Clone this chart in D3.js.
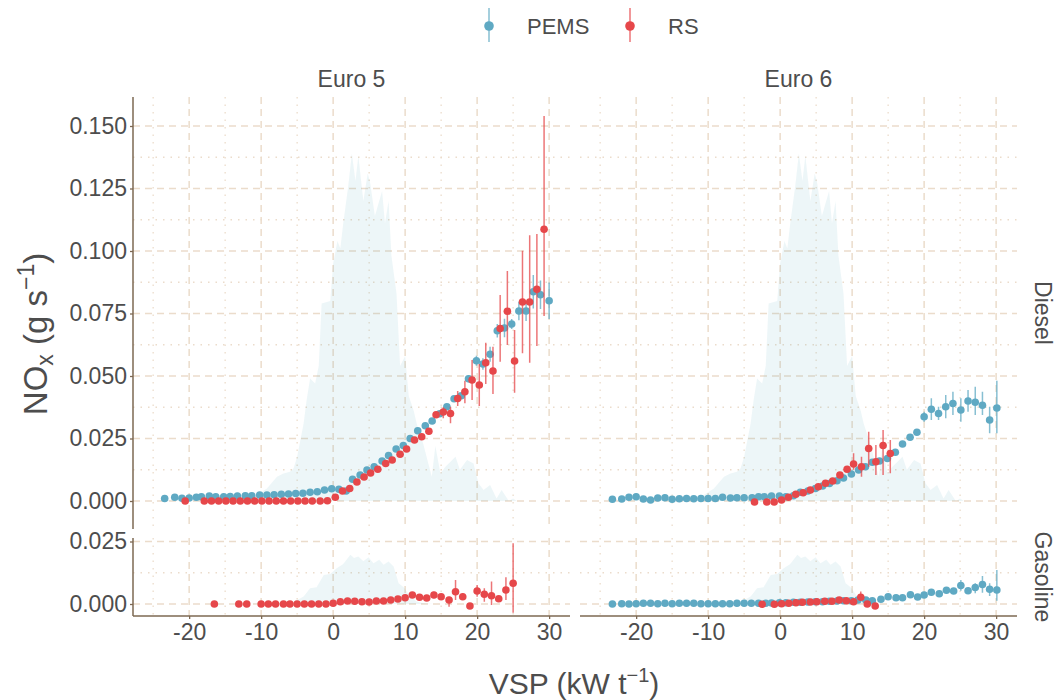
<!DOCTYPE html>
<html>
<head>
<meta charset="utf-8">
<script src="https://cdn.jsdelivr.net/npm/d3@7"></script>
<style>
  body { margin: 0; background: #fff; }
  text { font-family: "Liberation Sans", Arial, sans-serif; fill: #4d4d4d; }
</style>
</head>
<body>
<svg id="chart" width="1057" height="700"></svg>
<script>
// Step 1: Data
// ==============================================
const euroLabels = [ "Euro 5", "Euro 6" ];
const fuelLabels = [ "Diesel", "Gasoline" ];
const seriesNames = [ "PEMS", "RS" ];
const xTicks = [ -20, -10, 0, 10, 20, 30 ];
const xMinor = [ -25, -15, -5, 5, 15, 25 ];
const yTicksDiesel = [ 0, 0.025, 0.05, 0.075, 0.1, 0.125, 0.15 ];
const yMinorDiesel = [ 0.0125, 0.0375, 0.0625, 0.0875, 0.1125, 0.1375 ];
const yTicksGasoline = [ 0, 0.025 ];
const yMinorGasoline = [ 0.0125 ];

// rows: [vsp, nox, low, high]  (low/high only where an error bar shows)
const e5DieselPEMS = [
  [-23.4,0.0010],[-22.0,0.0015],[-21.0,0.0011],[-20.0,0.0012],[-19.0,0.0015],[-18.3,0.0017],
  [-17.2,0.0020],[-16.3,0.0017],[-15.2,0.0017],[-14.3,0.0018],[-13.3,0.0020],[-12.2,0.0021],
  [-11.3,0.0021],[-10.2,0.0024],[-9.2,0.0024],[-8.2,0.0025],[-7.2,0.0027],[-6.2,0.0028],
  [-5.2,0.0030],[-4.2,0.0031],[-3.2,0.0035],[-2.2,0.0037],[-1.2,0.0044],[-0.2,0.0049],
  [0.8,0.0047],[1.8,0.0040],[2.7,0.0087],[3.75,0.0104],[4.7,0.0124],[5.7,0.0137],
  [6.8,0.0160],[7.7,0.0182],[8.75,0.0208],[9.75,0.0222],[10.7,0.0250],[11.75,0.0281],
  [12.8,0.0301],[13.75,0.0320],[14.8,0.0349],[15.8,0.0377],[16.8,0.0409],[17.8,0.0421],
  [18.8,0.0489,0.0474,0.0504],[19.9,0.0561,0.0541,0.0581],[20.8,0.0548,0.0525,0.0571],
  [21.8,0.0587,0.0557,0.0617],[22.8,0.0681,0.0654,0.0708],[23.8,0.0692,0.0655,0.0729],
  [24.8,0.0708,0.0688,0.0728],[25.8,0.0760,0.0723,0.0797],[26.8,0.0760,0.0720,0.0800],
  [27.8,0.0837,0.0770,0.0904],[28.8,0.0825,0.0768,0.0882],[30.0,0.0801,0.0728,0.0874]
];
const e5DieselRS = [
  [-20.55,0.0000],[-17.9,0.0000],[-16.9,0.0000],[-15.9,0.0000],[-14.9,0.0000],[-13.9,0.0000],
  [-12.9,0.0000],[-11.9,0.0000],[-10.9,0.0000],[-9.9,0.0000],[-8.9,0.0000],[-7.9,0.0000],
  [-6.9,0.0000],[-5.9,0.0000],[-4.9,0.0000],[-3.9,0.0000],[-2.9,0.0000],[-1.8,0.0000],
  [-0.8,0.0001],[0.3,0.0015],[1.3,0.0040],[2.3,0.0050],[3.3,0.0076],[4.3,0.0096],
  [5.2,0.0112],[6.2,0.0127],[7.3,0.0150],[8.2,0.0164],[9.3,0.0187],[10.2,0.0208],
  [11.3,0.0244],[12.3,0.0257],[13.3,0.0279],[14.3,0.0345,0.0335,0.0355],
  [15.3,0.0356,0.0331,0.0375],[16.3,0.0350,0.0311,0.0377],[17.3,0.0410,0.0380,0.0440],
  [18.3,0.0437,0.0391,0.0481],[19.3,0.0484,0.0404,0.0564],[20.3,0.0464,0.0380,0.0548],
  [21.2,0.0553,0.0468,0.0633],[22.2,0.0520,0.0428,0.0617],[23.2,0.0690,0.0557,0.0824],
  [24.2,0.0759,0.0624,0.0920],[25.2,0.0560,0.0433,0.0684],[26.3,0.0796,0.0591,0.1001],
  [27.3,0.0796,0.0553,0.1063],[28.3,0.0847,0.0620,0.1068],[29.3,0.1087,0.0740,0.1540]
];
const e6DieselPEMS = [
  [-23.3,0.0007],[-22.0,0.0008],[-21.0,0.0015],[-20.0,0.0017],[-19.0,0.0008],[-18.0,0.0004],
  [-17.0,0.0012],[-16.0,0.0013],[-15.0,0.0007],[-14.0,0.0009],[-13.0,0.0010],[-12.0,0.0009],
  [-11.0,0.0010],[-10.0,0.0010],[-9.0,0.0010],[-8.0,0.0015],[-6.9,0.0012],[-6.0,0.0013],
  [-5.0,0.0013],[-3.9,0.0013],[-3.0,0.0017],[-2.2,0.0017],[-1.2,0.0020],[-0.1,0.0020],
  [0.8,0.0017],[1.85,0.0021],[2.8,0.0035],[3.85,0.0040],[4.9,0.0050],[5.9,0.0060],
  [6.85,0.0070],[7.9,0.0081],[8.8,0.0092],[9.9,0.0108],[10.9,0.0124],[11.85,0.0137],
  [12.8,0.0155],[13.8,0.0160],[14.9,0.0170],[16.0,0.0195],[17.0,0.0228],[18.05,0.0255],
  [19.0,0.0275],[20.0,0.0337,0.0317,0.0357],[21.0,0.0367,0.0324,0.0411],
  [22.0,0.0350,0.0324,0.0377],[23.0,0.0377,0.0331,0.0424],[24.0,0.0390,0.0344,0.0437],
  [25.1,0.0364,0.0317,0.0411],[26.1,0.0400,0.0357,0.0444],[27.1,0.0395,0.0344,0.0457],
  [28.1,0.0383,0.0344,0.0437],[29.1,0.0324,0.0271,0.0377],[30.1,0.0372,0.0271,0.0481]
];
const e6DieselRS = [
  [-3.56,-0.0004],[-1.85,-0.0004],[-0.83,-0.0004],[0.19,0.0004],[1.16,0.0015],[2.18,0.0027],
  [3.2,0.0033],[4.2,0.0044],[5.3,0.0057],[6.3,0.0071],[7.3,0.0080],[8.3,0.0104],
  [9.3,0.0127,0.0119,0.0135],[10.2,0.0148,0.0125,0.0191],[11.3,0.0137,0.0097,0.0177],
  [12.3,0.0210,0.0137,0.0277],[13.3,0.0157,0.0104,0.0224],[14.3,0.0222,0.0104,0.0284],
  [15.3,0.0190,0.0111,0.0244]
];
const e5GasolinePEMS = [];
const e5GasolineRS = [
  [-16.5,0.0000],[-13.1,0.0000],[-12.0,0.0000],[-10.0,0.0000],[-9.0,0.0000],[-8.0,0.0000],
  [-6.9,0.0000],[-6.0,0.0000],[-5.0,0.0000],[-4.0,0.0000],[-3.0,0.0000],[-2.0,0.0000],
  [-1.0,0.0000],[0.0,0.0003],[1.0,0.0009],[2.0,0.0012],[3.0,0.0011],[4.0,0.0009],
  [5.0,0.0008],[6.0,0.0012],[7.0,0.0012],[8.0,0.0016],[9.0,0.0020],[10.0,0.0025],
  [11.0,0.0036],[12.0,0.0027],[13.0,0.0024],[14.0,0.0036,0.0023,0.0049],[15.0,0.0029],
  [16.1,0.0016,-0.0011,0.0029],[17.0,0.0049,0.0016,0.0096],[18.0,0.0029,0.0016,0.0043],
  [19.0,-0.0008],[20.0,0.0052,0.0029,0.0076],[21.0,0.0039,0.0009,0.0063],
  [22.0,0.0033,-0.0004,0.0090],[23.0,0.0021],[24.0,0.0056,0.0016,0.0107],
  [25.0,0.0083,-0.0035,0.0243]
];
const e6GasolinePEMS = [
  [-23.3,0.0000],[-22.0,0.0001],[-21.0,0.0000],[-20.0,0.0001],[-19.0,0.0003],[-18.0,0.0003],
  [-17.0,0.0001],[-16.0,0.0003],[-15.0,0.0001],[-14.0,0.0003],[-13.0,0.0003],[-12.0,0.0003],
  [-11.0,0.0001],[-10.0,0.0001],[-9.0,0.0001],[-8.0,0.0001],[-7.0,0.0001],[-6.0,0.0003],
  [-5.0,0.0003],[-4.0,0.0003],[-3.0,0.0003],[-2.0,0.0003],[-1.2,0.0004],[-0.1,0.0005],
  [0.8,0.0005],[1.85,0.0007],[2.8,0.0007],[3.85,0.0008],[4.9,0.0009],[5.9,0.0009],
  [6.85,0.0011],[7.9,0.0012],[8.8,0.0013],[9.9,0.0013],[10.8,0.0016],[11.9,0.0016],
  [12.8,0.0013],[14.0,0.0019],[15.0,0.0029],[16.1,0.0025],[17.0,0.0025],[18.1,0.0037],
  [19.1,0.0028],[20.0,0.0036],[21.0,0.0047],[22.1,0.0041],[23.1,0.0055,0.0047,0.0063],
  [24.1,0.0052,0.0045,0.0059],[25.1,0.0074,0.0053,0.0096],[26.1,0.0053,0.0045,0.0061],
  [27.1,0.0066,0.0043,0.0083],[28.1,0.0078,0.0045,0.0112],[29.1,0.0059,0.0032,0.0083],
  [30.1,0.0056,0.0013,0.0136]
];
const e6GasolineRS = [
  [-2.5,-0.0001],[-0.8,-0.0001],[0.2,0.0001],[1.2,0.0003],[2.2,0.0005],[3.1,0.0007],
  [4.2,0.0008],[5.1,0.0009],[6.2,0.0011],[7.2,0.0011],[8.2,0.0016],[9.2,0.0013],
  [10.2,0.0009],[11.2,0.0027,0.0016,0.0050],[12.1,0.0000],[13.2,-0.0008]
];

// VSP distribution drawn behind the points (in NOx units of each row)
const dieselDensity = [
  [-25,0],[-20,0.0003],[-15,0.0006],[-12,0.0010],[-10.6,0.0024],[-9.2,0.0050],[-7.8,0.0097],
  [-6.9,0.0110],[-6,0.0117],[-5.5,0.0130],[-5,0.0177],[-4.1,0.0310],[-3.7,0.0400],[-3.2,0.0490],
  [-2.5,0.0470],[-2,0.0540],[-1.6,0.0790],[-0.4,0.0800],[0,0.0950],[0.6,0.1040],[1,0.1010],
  [1.4,0.1110],[2.1,0.1260],[2.6,0.1390],[3.1,0.1280],[3.5,0.1380],[4.2,0.1200],[4.8,0.1310],
  [5.1,0.1280],[5.8,0.1140],[6.8,0.1240],[7.2,0.1110],[7.7,0.1200],[8.1,0.0980],[8.8,0.0830],
  [9.3,0.0540],[10,0.0580],[10.5,0.0420],[11.2,0.0360],[11.6,0.0310],[12.5,0.0230],
  [13.7,0.0097],[14.2,0.0220],[14.9,0.0110],[15.6,0.0137],[17,0.0177],[17.6,0.0125],
  [18.6,0.0164],[19.5,0.0150],[20.2,0.0070],[20.9,0.0044],[21.8,0.0064],[22.7,0.0010],
  [23.4,0.0044],[24.4,0],[25,0.0010],[25.5,0]
];
const gasolineDensity = [
  [-12,0],[-8,0.0003],[-6,0.0005],[-5,0.0016],[-4.1,0.0030],[-3.2,0.0063],[-2.3,0.0067],
  [-1.3,0.0116],[-0.4,0.0120],[0.5,0.0143],[1.4,0.0160],[2.4,0.0197],[2.9,0.0184],[3.5,0.0190],
  [4.2,0.0171],[4.9,0.0187],[5.6,0.0163],[6.4,0.0177],[7.0,0.0157],[7.7,0.0170],[8.4,0.0150],
  [9.1,0.0083],[9.8,0.0067],[10.7,0.0030],[11.6,0.0010],[12.5,0.0003],[14,0]
];

// Step 2: Layout
// ==============================================
const colors = { PEMS: "#5fa9c3", RS: "#e6474a" };
const axisColor = "#7d6852";
const gridColor = "#ebdccb";

const svg = d3.select( "#chart" );

const colRange = [ [ 133, 570 ], [ 580, 1017 ] ];
const rows = [
  { fuel: "Diesel", range: [ 529, 97 ], domain: [ -0.0112, 0.1616 ], ticks: yTicksDiesel, minor: yMinorDiesel, density: dieselDensity },
  { fuel: "Gasoline", range: [ 616, 538 ], domain: [ -0.0048, 0.0264 ], ticks: yTicksGasoline, minor: yMinorGasoline, density: gasolineDensity }
];
const seriesByPanel = {
  "Euro 5|Diesel": { PEMS: e5DieselPEMS, RS: e5DieselRS },
  "Euro 6|Diesel": { PEMS: e6DieselPEMS, RS: e6DieselRS },
  "Euro 5|Gasoline": { PEMS: e5GasolinePEMS, RS: e5GasolineRS },
  "Euro 6|Gasoline": { PEMS: e6GasolinePEMS, RS: e6GasolineRS }
};
const format = d3.format( ".3f" );
const tickFont = "23px";

// Step 3: Panels
// ==============================================
rows.forEach( ( row, ri ) => {
  let y = d3.scaleLinear().domain( row.domain ).range( row.range );

  euroLabels.forEach( ( euro, ci ) => {
    let x = d3.scaleLinear().domain( [ -27.8, 32.9 ] ).range( colRange[ ci ] );
    let g = svg.append( "g" );
    let [ x0, x1 ] = colRange[ ci ];
    let [ yb, yt ] = row.range;

    // minor grid (dotted) then major grid (dashed)
    g.selectAll( ".vminor" ).data( xMinor ).enter().append( "line" )
      .attr( "x1", d => x( d ) ).attr( "x2", d => x( d ) )
      .attr( "y1", yt ).attr( "y2", yb )
      .attr( "stroke", gridColor ).attr( "stroke-width", 1.3 )
      .attr( "stroke-dasharray", "1.5,6" );
    g.selectAll( ".hminor" ).data( row.minor ).enter().append( "line" )
      .attr( "x1", x0 ).attr( "x2", x1 )
      .attr( "y1", d => y( d ) ).attr( "y2", d => y( d ) )
      .attr( "stroke", gridColor ).attr( "stroke-width", 1.3 )
      .attr( "stroke-dasharray", "1.5,6" );
    g.selectAll( ".vmajor" ).data( xTicks ).enter().append( "line" )
      .attr( "x1", d => x( d ) ).attr( "x2", d => x( d ) )
      .attr( "y1", yt ).attr( "y2", yb )
      .attr( "stroke", gridColor ).attr( "stroke-width", 1.5 )
      .attr( "stroke-dasharray", "7,5" );
    g.selectAll( ".hmajor" ).data( row.ticks ).enter().append( "line" )
      .attr( "x1", x0 ).attr( "x2", x1 )
      .attr( "y1", d => y( d ) ).attr( "y2", d => y( d ) )
      .attr( "stroke", gridColor ).attr( "stroke-width", 1.5 )
      .attr( "stroke-dasharray", "7,5" );

    // density area
    let area = d3.area()
      .x( d => x( d[ 0 ] ) )
      .y0( y( 0 ) )
      .y1( d => y( d[ 1 ] ) );
    g.append( "path" )
      .datum( row.density )
      .attr( "d", area )
      .attr( "fill", colors.PEMS )
      .attr( "fill-opacity", 0.11 );

    // error bars + points, PEMS first then RS
    let data = seriesByPanel[ `${euro}|${row.fuel}` ];
    seriesNames.forEach( name => {
      let pts = data[ name ];
      g.selectAll( `.bar${name}` )
        .data( pts.filter( d => d.length > 2 ) )
        .enter().append( "line" )
        .attr( "x1", d => x( d[ 0 ] ) ).attr( "x2", d => x( d[ 0 ] ) )
        .attr( "y1", d => y( d[ 2 ] ) ).attr( "y2", d => y( d[ 3 ] ) )
        .attr( "stroke", colors[ name ] )
        .attr( "stroke-opacity", 0.75 )
        .attr( "stroke-width", 1.5 );
      g.selectAll( `.pt${name}` )
        .data( pts )
        .enter().append( "circle" )
        .attr( "cx", d => x( d[ 0 ] ) )
        .attr( "cy", d => y( d[ 1 ] ) )
        .attr( "r", 3.8 )
        .attr( "fill", colors[ name ] );
    } );

    // y axis on the left column only
    if ( ci === 0 ) {
      let yAxis = d3.axisLeft( y ).tickValues( row.ticks ).tickFormat( format ).tickSize( 3 ).tickPadding( 3 );
      let ga = svg.append( "g" ).attr( "transform", `translate(${x0},0)` ).call( yAxis );
      ga.select( ".domain" ).attr( "d", `M0,${yt}V${yb}` ).attr( "stroke", axisColor ).attr( "stroke-width", 1.5 );
      ga.selectAll( ".tick line" ).attr( "stroke", axisColor ).attr( "stroke-width", 1.3 );
      ga.selectAll( ".tick text" ).style( "font-size", tickFont ).attr( "fill", "#4d4d4d" )
        .style( "font-family", "Liberation Sans, Arial, sans-serif" );
    }

    // x axis on the bottom row only
    if ( ri === rows.length - 1 ) {
      let xAxis = d3.axisBottom( x ).tickValues( xTicks ).tickFormat( d => `${d}` ).tickSize( 3 ).tickPadding( 5 );
      let ga = svg.append( "g" ).attr( "transform", `translate(0,${yb})` ).call( xAxis );
      ga.select( ".domain" ).attr( "d", `M${x0},0H${x1}` ).attr( "stroke", axisColor ).attr( "stroke-width", 1.5 );
      ga.selectAll( ".tick line" ).attr( "stroke", axisColor ).attr( "stroke-width", 1.3 );
      ga.selectAll( ".tick text" ).style( "font-size", tickFont ).attr( "fill", "#4d4d4d" )
        .style( "font-family", "Liberation Sans, Arial, sans-serif" );
    }

    // strip on top
    if ( ri === 0 ) {
      svg.append( "text" )
        .attr( "x", ( x0 + x1 ) / 2 ).attr( "y", 87 )
        .attr( "text-anchor", "middle" )
        .style( "font-size", "23px" )
        .text( euro );
    }
  } );

  // strip on the right
  let cy = ( row.range[ 0 ] + row.range[ 1 ] ) / 2;
  svg.append( "text" )
    .attr( "transform", `translate(1035,${cy}) rotate(90)` )
    .attr( "text-anchor", "middle" )
    .style( "font-size", "23px" )
    .text( row.fuel );
} );

// Step 4: Axis titles
// ==============================================
let xt = svg.append( "text" )
  .attr( "x", 574 ).attr( "y", 694 )
  .attr( "text-anchor", "middle" )
  .style( "font-size", "30px" );
xt.append( "tspan" ).text( "VSP (kW t" );
xt.append( "tspan" ).attr( "dy", -12 ).style( "font-size", "20px" ).text( "\u22121" );
xt.append( "tspan" ).attr( "dy", 12 ).text( ")" );

let yt = svg.append( "text" )
  .attr( "transform", "translate(47,334) rotate(-90)" )
  .attr( "text-anchor", "middle" )
  .style( "font-size", "33px" );
yt.append( "tspan" ).text( "NO" );
yt.append( "tspan" ).attr( "dy", 6 ).style( "font-size", "23px" ).text( "x" );
yt.append( "tspan" ).attr( "dy", -6 ).text( " (g s" );
yt.append( "tspan" ).attr( "dy", -13 ).style( "font-size", "23px" ).text( "\u22121" );
yt.append( "tspan" ).attr( "dy", 13 ).text( ")" );

// Step 5: Legend
// ==============================================
let legendX = [ 489, 630 ];
seriesNames.forEach( ( name, i ) => {
  let lg = svg.append( "g" ).attr( "transform", `translate(${legendX[ i ]},26)` );
  lg.append( "line" )
    .attr( "y1", -18 ).attr( "y2", 16 )
    .attr( "stroke", colors[ name ] ).attr( "stroke-opacity", 0.75 ).attr( "stroke-width", 1.5 );
  lg.append( "circle" ).attr( "r", 4.8 ).attr( "fill", colors[ name ] );
  lg.append( "text" )
    .attr( "x", 38 ).attr( "y", 8 )
    .style( "font-size", "22px" )
    .text( name );
} );
</script>
</body>
</html>
